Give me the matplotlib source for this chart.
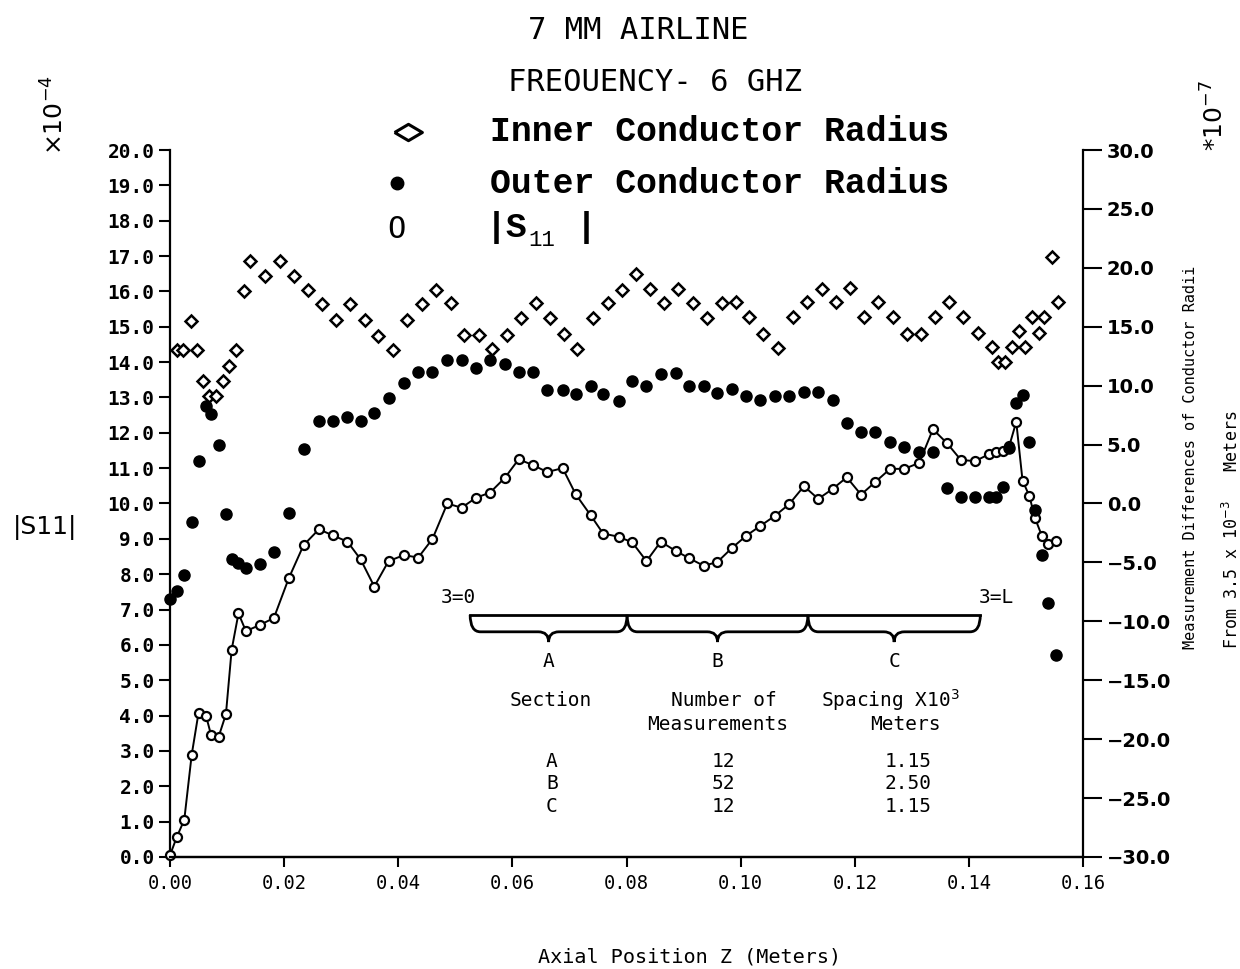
import matplotlib.pyplot as plt
from matplotlib.path import Path
from matplotlib.lines import Line2D
import matplotlib.patches as mpatches

# axial positions (m) of the |S11| / outer radius measurements
z_s11 = [0.0000, 0.0012, 0.0025, 0.0038, 0.0050, 0.0063, 0.0072, 0.0085, 0.0098, 0.0108, 0.0120, 0.0133,
         0.0157, 0.0182, 0.0208, 0.0234, 0.0261, 0.0285, 0.0311, 0.0334, 0.0358, 0.0383, 0.0410, 0.0435,
         0.0460, 0.0486, 0.0511, 0.0536, 0.0561, 0.0587, 0.0611, 0.0637, 0.0661, 0.0688, 0.0711, 0.0737,
         0.0759, 0.0786, 0.0810, 0.0835, 0.0860, 0.0886, 0.0910, 0.0935, 0.0959, 0.0984, 0.1010, 0.1034,
         0.1060, 0.1085, 0.1111, 0.1136, 0.1161, 0.1186, 0.1211, 0.1236, 0.1262, 0.1287, 0.1313, 0.1337,
         0.1362, 0.1386, 0.1411, 0.1436,
         0.1448, 0.1459, 0.1471, 0.1483, 0.1494, 0.1506, 0.1516, 0.1528, 0.1539, 0.1552]

# |S11| (x10^-4), left axis
s11 = [0.05, 0.57, 1.05, 2.89, 4.08, 4.00, 3.45, 3.39, 4.04, 5.86, 6.89, 6.39,
       6.56, 6.76, 7.88, 8.82, 9.27, 9.10, 8.92, 8.42, 7.65, 8.37, 8.54, 8.47,
       9.00, 10.00, 9.88, 10.16, 10.31, 10.73, 11.25, 11.08, 10.89, 11.00, 10.26, 9.67,
       9.15, 9.06, 8.90, 8.37, 8.92, 8.66, 8.45, 8.24, 8.34, 8.73, 9.09, 9.36,
       9.65, 9.98, 10.49, 10.13, 10.41, 10.74, 10.25, 10.61, 10.98, 10.98, 11.15, 12.10,
       11.70, 11.23, 11.20, 11.40,
       11.45, 11.49, 11.64, 12.31, 10.65, 10.21, 9.58, 9.08, 8.85, 8.94]

# outer conductor radius difference (x10^-7 m), right axis
outer = [-8.13, -7.45, -6.07, -1.53, 3.58, 8.30, 7.57, 4.97, -0.85, -4.73, -5.07, -5.45,
         -5.11, -4.09, -0.81, 4.63, 7.00, 7.00, 7.32, 7.00, 7.66, 8.93, 10.23, 11.16,
         11.16, 12.18, 12.18, 11.47, 12.18, 11.84, 11.19, 11.19, 9.63, 9.63, 9.29, 9.97,
         9.29, 8.73, 10.40, 9.97, 10.97, 11.05, 9.97, 9.97, 9.40, 9.69, 9.12, 8.78,
         9.12, 9.12, 9.44, 9.44, 8.78, 6.86, 6.09, 6.09, 5.25, 4.82, 4.40, 4.40,
         1.29, 0.58, 0.58, 0.58,
         0.58, 1.38, 4.71, 8.56, 9.21, 5.25, -0.55, -4.37, -8.47, -12.86]

# inner conductor radius difference (x10^-7 m), right axis
z_inner = [0.0012, 0.0023, 0.0036, 0.0047, 0.0057, 0.0069, 0.0081, 0.0092, 0.0104, 0.0116, 0.0130, 0.0141,
           0.0166, 0.0193, 0.0217, 0.0241, 0.0266, 0.0291, 0.0316, 0.0341, 0.0365, 0.0390, 0.0415, 0.0442,
           0.0466, 0.0492, 0.0515, 0.0541, 0.0564, 0.0590, 0.0615, 0.0641, 0.0666, 0.0691, 0.0714, 0.0741,
           0.0767, 0.0792, 0.0817, 0.0841, 0.0866, 0.0891, 0.0916, 0.0941, 0.0967, 0.0991, 0.1015, 0.1040,
           0.1066, 0.1091, 0.1117, 0.1142, 0.1167, 0.1192, 0.1216, 0.1241, 0.1267, 0.1291, 0.1316, 0.1341,
           0.1366, 0.1390, 0.1416, 0.1440,
           0.1451, 0.1463, 0.1476, 0.1487, 0.1498, 0.1510, 0.1522, 0.1532, 0.1546, 0.1557]
inner = [13.0, 13.0, 15.5, 13.0, 10.4, 9.1, 9.1, 10.4, 11.7, 13.0, 18.0, 20.6,
         19.3, 20.6, 19.3, 18.1, 16.9, 15.6, 16.9, 15.6, 14.2, 13.0, 15.6, 16.9,
         18.1, 17.0, 14.3, 14.3, 13.1, 14.3, 15.7, 17.0, 15.7, 14.4, 13.1, 15.7,
         17.0, 18.1, 19.5, 18.2, 17.0, 18.2, 17.0, 15.7, 17.0, 17.1, 15.8, 14.4,
         13.2, 15.8, 17.1, 18.2, 17.1, 18.3, 15.8, 17.1, 15.8, 14.4, 14.4, 15.8,
         17.1, 15.8, 14.5, 13.3,
         12.0, 12.0, 13.3, 14.6, 13.3, 15.8, 14.5, 15.8, 20.9, 17.1]

x_ticks = [0.00, 0.02, 0.04, 0.06, 0.08, 0.10, 0.12, 0.14, 0.16]
x_tick_labels = ['0.00', '0.02', '0.04', '0.06', '0.08', '0.10', '0.12', '0.14', '0.16']
left_ticks = list(range(0, 21))
left_tick_labels = ['%d.0' % v for v in left_ticks]
right_ticks = [-30, -25, -20, -15, -10, -5, 0, 5, 10, 15, 20, 25, 30]
right_tick_labels = ['\u221230.0', '\u221225.0', '\u221220.0', '\u221215.0', '\u221210.0', '\u22125.0',
                     '0.0', '5.0', '10.0', '15.0', '20.0', '25.0', '30.0']

sections = ['A', 'B', 'C']
n_meas = ['12', '52', '12']
spacing = ['1.15', '2.50', '1.15']

mono = 'DejaVu Sans Mono'

fig = plt.figure(figsize=(12.4, 9.69), dpi=100)
ax = fig.add_axes([0.1371, 0.1156, 0.7363, 0.7296])
ax2 = ax.twinx()

ax.plot(z_s11, s11, '-o', color='black', mfc='white', ms=6.5, mew=1.6, lw=1.4, clip_on=False, zorder=3)
ax2.plot(z_s11, outer, 'o', color='black', ms=8, linestyle='none', clip_on=False, zorder=4)
ax2.plot(z_inner, inner, 'D', color='black', mfc='white', ms=6, mew=1.8, linestyle='none',
         clip_on=False, zorder=4)

ax.set_xlim(0, 0.16)
ax.set_ylim(0, 20)
ax2.set_ylim(-30, 30)

ax.set_xticks(x_ticks)
ax.set_xticklabels(x_tick_labels, fontfamily=mono, fontsize=13.5)
ax.set_yticks(left_ticks)
ax.set_yticklabels(left_tick_labels, fontfamily=mono, fontweight='bold', fontsize=14)
ax2.set_yticks(right_ticks)
ax2.set_yticklabels(right_tick_labels, fontfamily='DejaVu Sans', fontweight='bold', fontsize=14)

for a in (ax, ax2):
    a.spines['top'].set_visible(False)
    for s in a.spines.values():
        s.set_linewidth(1.6)
ax.spines['right'].set_visible(False)
ax2.spines['left'].set_visible(False)
ax.tick_params(axis='y', direction='out', length=8, width=1.5, pad=3)
ax.tick_params(axis='x', direction='out', length=7, width=1.5, pad=5)
ax2.tick_params(axis='y', direction='out', length=14, width=1.5, pad=3)

# section braces
def brace(x0, x1, ytop=6.85, ybot=6.37, ytip=6.08, d=0.0018):
    xm = (x0 + x1) / 2
    verts = [(x0, ytop), (x0, ybot), (x0 + d, ybot), (xm - d, ybot), (xm, ybot), (xm, ytip),
             (xm, ybot), (xm + d, ybot), (x1 - d, ybot), (x1, ybot), (x1, ytop)]
    codes = [Path.MOVETO, Path.CURVE3, Path.CURVE3, Path.LINETO, Path.CURVE3, Path.CURVE3,
             Path.CURVE3, Path.CURVE3, Path.LINETO, Path.CURVE3, Path.CURVE3]
    ax.add_patch(mpatches.PathPatch(Path(verts, codes), fill=False, lw=2, color='black'))

edges = [0.0526, 0.0801, 0.1118, 0.1420]
for i in range(3):
    brace(edges[i], edges[i + 1])
ax.plot([edges[0], edges[-1]], [6.85, 6.85], color='black', lw=2)

tkw = dict(fontfamily=mono, fontsize=14, ha='center', va='center')
ax.text(0.0505, 7.35, '3=0', **tkw)
ax.text(0.1449, 7.35, '3=L', **tkw)
for i, lab in enumerate(sections):
    ax.text((edges[i] + edges[i + 1]) / 2, 5.52, lab, **tkw)
ax.text(0.0668, 4.44, 'Section', **tkw)
ax.text(0.0971, 4.44, 'Number of', **tkw)
ax.text(0.0959, 3.76, 'Measurements', **tkw)
ax.text(0.1262, 4.44, 'Spacing X10$^3$', **tkw)
ax.text(0.1288, 3.76, 'Meters', **tkw)
for i, yv in enumerate([2.69, 2.07, 1.44]):
    ax.text(0.0669, yv, sections[i], **tkw)
    ax.text(0.0969, yv, n_meas[i], **tkw)
    ax.text(0.1293, yv, spacing[i], **tkw)

# titles
fig.text(0.5145, 0.969, '7 MM AIRLINE', fontfamily=mono, fontsize=22, ha='center', va='center')
fig.text(0.528, 0.915, 'FREOUENCY- 6 GHZ', fontfamily=mono, fontsize=22, ha='center', va='center')

# legend
lkw = dict(fontfamily='Liberation Mono', fontweight='bold', fontsize=25, va='center', ha='left')
wide_diamond = [(-1.7, 0), (0, 1), (1.7, 0), (0, -1), (-1.7, 0)]
fig.add_artist(Line2D([0.329], [0.864], marker=wide_diamond, ms=20, mfc='white', mec='black', mew=2.2,
                      transform=fig.transFigure))
fig.text(0.395, 0.864, 'Inner Conductor Radius', **lkw)
fig.add_artist(Line2D([0.320], [0.811], marker='o', ms=9, color='black', transform=fig.transFigure))
fig.text(0.395, 0.811, 'Outer Conductor Radius', **lkw)
fig.text(0.320, 0.763, 'O', fontfamily=mono, fontsize=22, ha='center', va='center')
fig.text(0.392, 0.765, '|S', **lkw)
fig.text(0.426, 0.752, '11', fontfamily='Liberation Mono', fontsize=16, va='center', ha='left')
fig.text(0.464, 0.765, '|', **lkw)

# axis labels
fig.text(0.044, 0.881, '\u00d710$^{-4}$', fontsize=18, rotation=90, ha='center', va='center')
fig.text(0.980, 0.881, '*10$^{-7}$', fontsize=18, rotation=90, ha='center', va='center')
fig.text(0.036, 0.456, '|S11|', fontsize=18, ha='center', va='center')
fig.text(0.960, 0.528, 'Measurement Differences of Conductor Radii', fontfamily=mono, fontsize=11,
         rotation=90, ha='center', va='center')
fig.text(0.9935, 0.453, 'From 3.5 x 10$^{-3}$   Meters', fontfamily=mono, fontsize=12,
         rotation=90, ha='center', va='center')
fig.text(0.556, 0.0124, 'Axial Position Z (Meters)', fontfamily=mono, fontsize=14.5, ha='center', va='center')

fig.savefig('out.png', dpi=100)
